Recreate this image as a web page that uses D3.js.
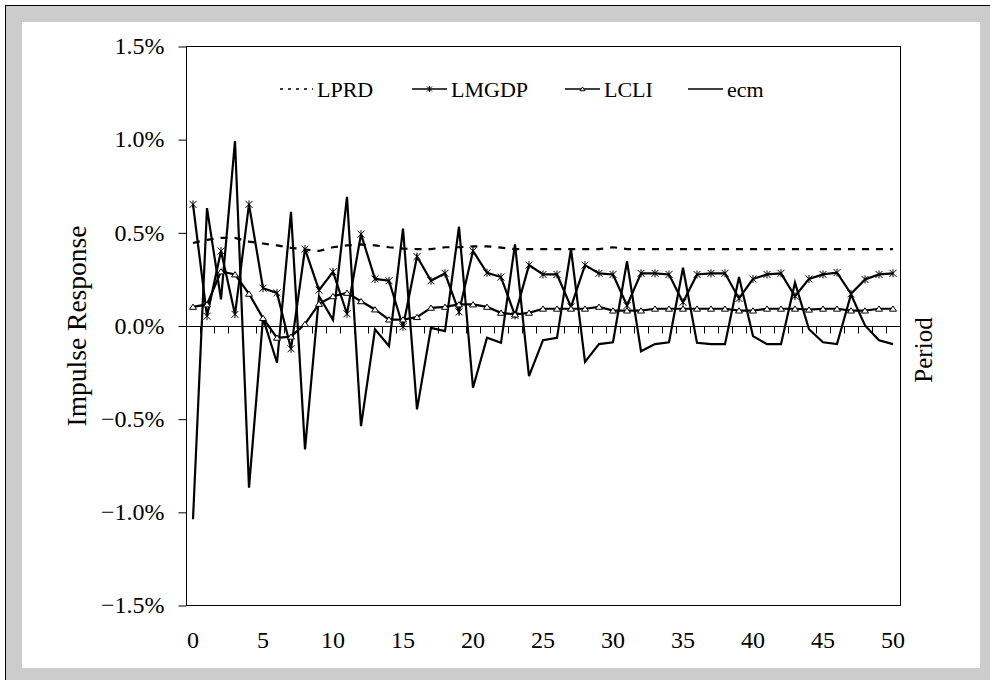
<!DOCTYPE html>
<html><head><meta charset="utf-8">
<script src="https://cdn.jsdelivr.net/npm/d3@7"></script>
<style>html,body{margin:0;padding:0;background:#fff;}svg{display:block;}</style>
</head><body>
<svg id="c" width="990" height="680"></svg>
<script>
const periods = d3.range(0, 51);
const xTickLabels = [0,5,10,15,20,25,30,35,40,45,50];
const yTicks = [-1.5,-1.0,-0.5,0,0.5,1.0,1.5];
const seriesNames = ["LPRD","LMGDP","LCLI","ecm"];
const LPRD = [0.443,0.46,0.47,0.47,0.45,0.44,0.43,0.417,0.408,0.40,0.42,0.43,0.435,0.43,0.42,0.413,0.41,0.41,0.42,0.42,0.425,0.425,0.418,0.41,0.41,0.41,0.41,0.41,0.41,0.41,0.42,0.41,0.41,0.41,0.41,0.41,0.41,0.41,0.41,0.41,0.41,0.41,0.41,0.41,0.41,0.41,0.41,0.41,0.41,0.41,0.41];
const LMGDP = [0.65,0.05,0.40,0.06,0.65,0.20,0.175,-0.125,0.41,0.19,0.288,0.063,0.49,0.25,0.24,-0.007,0.37,0.24,0.28,0.073,0.40,0.283,0.26,0.054,0.324,0.274,0.274,0.10,0.324,0.28,0.274,0.107,0.28,0.28,0.274,0.125,0.274,0.28,0.28,0.145,0.25,0.274,0.28,0.157,0.25,0.274,0.284,0.17,0.247,0.274,0.28];
const LCLI = [0.10,0.113,0.29,0.274,0.17,0.04,-0.066,-0.06,0.008,0.116,0.157,0.175,0.13,0.086,0.032,0.032,0.045,0.095,0.10,0.113,0.113,0.10,0.068,0.059,0.068,0.09,0.09,0.09,0.09,0.10,0.08,0.08,0.08,0.09,0.09,0.09,0.09,0.09,0.09,0.08,0.08,0.09,0.09,0.09,0.085,0.09,0.09,0.08,0.08,0.09,0.09];
const ecm = [-1.04,0.63,0.14,0.99,-0.87,0.04,-0.20,0.61,-0.665,0.157,0.03,0.69,-0.54,-0.02,-0.11,0.52,-0.45,-0.013,-0.03,0.53,-0.334,-0.066,-0.093,0.435,-0.272,-0.079,-0.066,0.41,-0.195,-0.10,-0.09,0.345,-0.138,-0.10,-0.09,0.31,-0.093,-0.10,-0.10,0.26,-0.057,-0.10,-0.10,0.23,-0.02,-0.09,-0.10,0.166,0.0,-0.079,-0.10];

const svg = d3.select("#c");
const font = "'Liberation Serif','Times New Roman',Tinos,serif";
// frame
svg.append("rect").attr("x",5.5).attr("y",5.5).attr("width",1000).attr("height",700).attr("fill","#cccccc").attr("stroke","#000").attr("stroke-width",1);
svg.append("rect").attr("x",22).attr("y",22).attr("width",958).attr("height",646).attr("fill","#fff");

const L=186, R=900, T=46, B=605;
const x = d3.scaleBand().domain(periods).range([L,R]).padding(0);
const xc = d => x(d) + x.bandwidth()/2;
const y = d3.scaleLinear().domain([-1.5,1.5]).range([B,T]);

// y axis
const yAxis = d3.axisLeft(y).tickValues(yTicks).tickSizeInner(8).tickSizeOuter(0).tickPadding(14)
  .tickFormat(v => (v<0?"\u2212":"") + Math.abs(v).toFixed(1) + "%");
const gy = svg.append("g").attr("transform",`translate(${L+0.5},0)`).call(yAxis);
gy.select(".domain").remove();
gy.selectAll("line").attr("stroke","#000").attr("transform","translate(0,0.5)");
gy.selectAll("text").attr("font-family",font).attr("font-size",24).attr("fill","#000");

// plot border
svg.append("rect").attr("x",L+0.5).attr("y",T+0.5).attr("width",R-L).attr("height",B-T).attr("fill","none").attr("stroke","#000").attr("stroke-width",1);

// zero category axis with ticks between categories
const zeroY = Math.round(y(0))+0.5;
const bounds = d3.range(1,51).map(i => x(periods[i]));
const gz = svg.append("g");
gz.append("line").attr("x1",L).attr("x2",R).attr("y1",zeroY).attr("y2",zeroY).attr("stroke","#000").attr("stroke-width",1);
gz.selectAll("line.t").data(bounds).join("line").attr("class","t")
  .attr("x1",d=>Math.round(d)+0.5).attr("x2",d=>Math.round(d)+0.5).attr("y1",zeroY).attr("y2",zeroY+7).attr("stroke","#000");

// x tick labels at bottom
const xAxis = d3.axisBottom(x).tickValues(xTickLabels).tickSize(0).tickPadding(26);
const gx = svg.append("g").attr("transform",`translate(0,${B})`).call(xAxis);
gx.select(".domain").remove();
gx.selectAll("text").attr("font-family",font).attr("font-size",24).attr("fill","#000");

// titles
svg.append("text").attr("transform",`translate(86,326) rotate(-90)`).attr("text-anchor","middle")
  .attr("font-family",font).attr("font-size",27.5).text("Impulse Response");
svg.append("text").attr("transform",`translate(932,350) rotate(-90)`).attr("text-anchor","middle")
  .attr("font-family",font).attr("font-size",25).text("Period");

const line = d3.line().x((d,i)=>xc(periods[i])).y(d=>y(d));
const g = svg.append("g");
g.append("path").datum(LPRD).attr("d",line).attr("fill","none").attr("stroke","#000").attr("stroke-width",2.2).attr("stroke-dasharray","7,7");
g.append("path").datum(LMGDP).attr("d",line).attr("fill","none").attr("stroke","#000").attr("stroke-width",2.2);
g.append("path").datum(LCLI).attr("d",line).attr("fill","none").attr("stroke","#000").attr("stroke-width",2.2);
g.append("path").datum(ecm).attr("d",line).attr("fill","none").attr("stroke","#000").attr("stroke-width",2.2);

function star(sel, cx, cy, s){
  const gg = sel.append("g").attr("transform",`translate(${cx},${cy})`).attr("stroke","#000").attr("stroke-width",1);
  gg.append("line").attr("x1",-s).attr("y1",-s).attr("x2",s).attr("y2",s);
  gg.append("line").attr("x1",-s).attr("y1",s).attr("x2",s).attr("y2",-s);
  gg.append("line").attr("x1",0).attr("y1",-s-0.5).attr("x2",0).attr("y2",s+0.5);
}
function tri(sel, cx, cy, s){
  sel.append("path").attr("d",`M${cx-s},${cy+s*0.7}L${cx},${cy-s*0.8}L${cx+s},${cy+s*0.7}Z`)
    .attr("fill","#fff").attr("stroke","#000").attr("stroke-width",1);
}
LMGDP.forEach((v,i)=>star(g, xc(periods[i]), y(v), 3.5));
LCLI.forEach((v,i)=>tri(g, xc(periods[i]), y(v), 3.5));

// legend
const lg = svg.append("g");
const ly = 89;
const legItems = [
  {name:seriesNames[0], x1:280, x2:313, dash:"3,5", mk:null},
  {name:seriesNames[1], x1:412, x2:447, dash:null, mk:"star"},
  {name:seriesNames[2], x1:565, x2:600, dash:null, mk:"tri"},
  {name:seriesNames[3], x1:688, x2:723, dash:null, mk:null}
];
legItems.forEach(it=>{
  const l = lg.append("line").attr("x1",it.x1).attr("x2",it.x2).attr("y1",ly).attr("y2",ly).attr("stroke","#000").attr("stroke-width",1.5);
  if(it.dash) l.attr("stroke-dasharray",it.dash);
  const mx=(it.x1+it.x2)/2;
  if(it.mk==="star") star(lg,mx,ly,2.5);
  if(it.mk==="tri") tri(lg,mx,ly,2.5);
  lg.append("text").attr("x",it.x2+4).attr("y",ly+8).attr("font-family",font).attr("font-size",22).text(it.name);
});
</script>
</body></html>
